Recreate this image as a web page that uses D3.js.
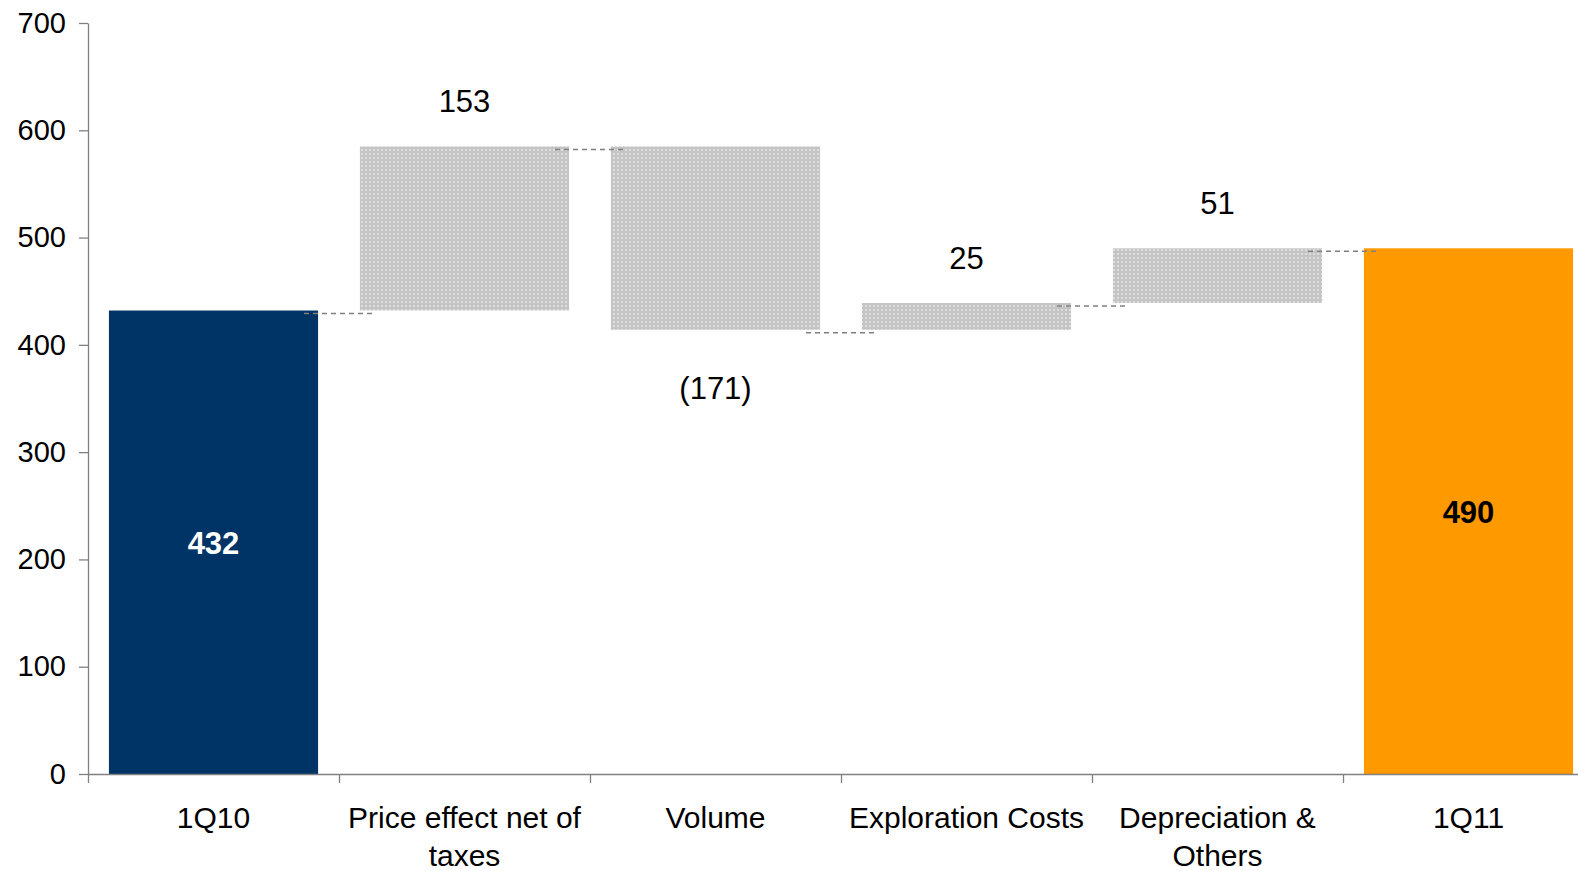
<!DOCTYPE html>
<html>
<head>
<meta charset="utf-8">
<script src="https://cdn.jsdelivr.net/npm/d3@7"></script>
<style>
  html, body { margin: 0; padding: 0; background: #fff; overflow: hidden; }
  svg { display: block; }
  text { font-family: "Liberation Sans", Arial, sans-serif; }
</style>
</head>
<body>
<div id="main"></div>
<script>
// waterfall data
var categories = ['1Q10', 'Price effect net of taxes', 'Volume', 'Exploration Costs', 'Depreciation & Others', '1Q11'];
var catLines = [['1Q10'], ['Price effect net of', 'taxes'], ['Volume'], ['Exploration Costs'], ['Depreciation &', 'Others'], ['1Q11']];
var deltas = [432, 153, -171, 25, 51, 490];
var kinds = ['total', 'step', 'step', 'step', 'step', 'total'];
var yTicks = [0, 100, 200, 300, 400, 500, 600, 700];

var W = 1578, H = 871;
var svg = d3.select('#main').append('svg').attr('width', W).attr('height', H);

var defs = svg.append('defs');
var pat = defs.append('pattern').attr('id', 'dots')
  .attr('patternUnits', 'userSpaceOnUse').attr('width', 4).attr('height', 4);
pat.append('rect').attr('width', 4).attr('height', 4).attr('fill', '#c4c4c4');
pat.append('rect').attr('x', 1).attr('y', 1).attr('width', 2).attr('height', 2).attr('fill', '#dedede');

var x = d3.scaleBand().domain(categories).range([88, 1594])
  .paddingInner(1 / 6).paddingOuter(1 / 12);
var y = d3.scaleLinear().domain([0, 700]).range([774, 23]);

// build running totals
var run = 0;
var bars = categories.map(function(c, i) {
  var d = { cat: c, value: deltas[i], kind: kinds[i] };
  if (d.kind === 'total') { d.lo = 0; d.hi = d.value; run = d.value; }
  else { d.lo = Math.min(run, run + d.value); d.hi = Math.max(run, run + d.value); run += d.value; }
  d.end = run;
  return d;
});

var colors = { '1Q10': '#003366', '1Q11': '#ff9900' };

svg.selectAll('rect.bar').data(bars).enter().append('rect')
  .attr('class', 'bar')
  .attr('x', function(d) { return x(d.cat); })
  .attr('width', x.bandwidth())
  .attr('y', function(d) { return y(d.hi); })
  .attr('height', function(d) { return y(d.lo) - y(d.hi); })
  .attr('fill', function(d) { return d.kind === 'total' ? colors[d.cat] : 'url(#dots)'; });

// connectors
var step = x.step();
svg.selectAll('line.conn').data(bars.slice(0, -1)).enter().append('line')
  .attr('class', 'conn')
  .attr('x1', function(d) { return x(d.cat) - x.paddingOuter() * step + step - 35; })
  .attr('x2', function(d) { return x(d.cat) - x.paddingOuter() * step + step + 35; })
  .attr('y1', function(d) { return y(d.end) + 3; })
  .attr('y2', function(d) { return y(d.end) + 3; })
  .attr('stroke', '#808080').attr('stroke-width', 1.5).attr('stroke-dasharray', '5,4');

// axes
var yAxis = d3.axisLeft(y).tickValues(yTicks).tickSize(9).tickSizeOuter(0).tickPadding(13);
var gy = svg.append('g').attr('transform', 'translate(88,0)').call(yAxis);
gy.selectAll('text').attr('font-size', 29).attr('fill', '#000').attr('font-family', '"Liberation Sans", Arial, sans-serif');
gy.selectAll('line, path').attr('stroke', '#808080').attr('stroke-width', 1.3);

var xAxis = d3.axisBottom(d3.scaleLinear().domain([0, 6]).range([88, 88 + step * 6]))
  .tickValues([0, 1, 2, 3, 4, 5]).tickSize(9).tickSizeOuter(0).tickFormat('');
var gx = svg.append('g').attr('transform', 'translate(0,774)').call(xAxis);
gx.selectAll('line, path').attr('stroke', '#808080').attr('stroke-width', 1.3);

// category labels
var cl = svg.selectAll('text.cat').data(bars).enter().append('text')
  .attr('class', 'cat')
  .attr('text-anchor', 'middle')
  .attr('font-size', 30)
  .attr('x', function(d) { return x(d.cat) + x.bandwidth() / 2; })
  .attr('y', 828);
cl.selectAll('tspan').data(function(d, i) { return catLines[i]; }).enter().append('tspan')
  .attr('x', function() { return d3.select(this.parentNode).attr('x'); })
  .attr('dy', function(d, i) { return i ? 38 : 0; })
  .text(function(d) { return d; });

// value labels
svg.selectAll('text.val').data(bars).enter().append('text')
  .attr('class', 'val')
  .attr('text-anchor', 'middle')
  .attr('x', function(d) { return x(d.cat) + x.bandwidth() / 2; })
  .attr('y', function(d) {
    if (d.kind === 'total') return y(d.value / 2) + 12;
    if (d.value < 0) return y(d.lo) + 69;
    return y(d.hi) - 34;
  })
  .attr('font-size', 31)
  .attr('font-weight', function(d) { return d.kind === 'total' ? 'bold' : 'normal'; })
  .attr('fill', function(d) { return d.cat === '1Q10' ? '#fff' : '#000'; })
  .text(function(d) { return d.value < 0 ? '(' + (-d.value) + ')' : d.value; });
</script>
</body>
</html>
